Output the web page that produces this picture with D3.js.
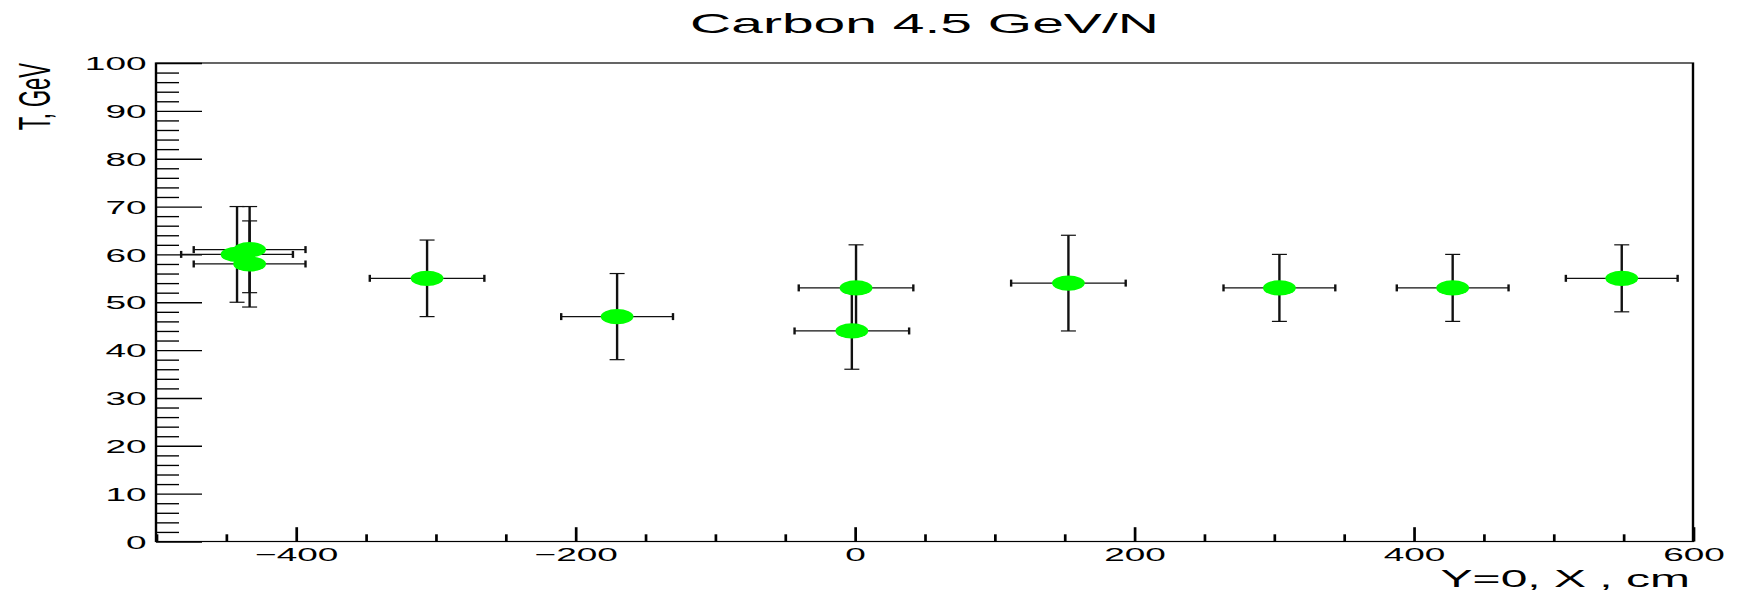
<!DOCTYPE html>
<html>
<head>
<meta charset="utf-8">
<script src="https://cdn.jsdelivr.net/npm/d3@7"></script>
<style>
body { margin: 0; background: #fff; }
svg { display: block; }
text { font-family: "Liberation Sans", Arial, sans-serif; fill: #000; }
</style>
</head>
<body>
<div id="chart"></div>
<script>
// data
const xPos  = [-442, -433, -433, -306, -170, 1, -2, 153, 304, 428, 549];
const tVal  = [60, 61, 58, 55, 47, 53, 44, 54, 53, 53, 55];
const xErr  = [40, 40, 40, 41, 40, 41, 41, 41, 40, 40, 40];
const tErr  = [10, 9, 9, 8, 9, 9, 8, 10, 7, 7, 7];

const xMajor = [-400, -200, 0, 200, 400, 600];
const xMinor = d3.range(-500, 601, 50).filter(v => !xMajor.includes(v));
const yMajor = d3.range(0, 101, 10);
const yMinor = d3.range(0, 101, 2).filter(v => v % 10 != 0);

const titleText = "Carbon 4.5 GeV/N";
const xTitle = "Y=0, X , cm";
const yTitle = "T, GeV";

// the original is stretched 2x horizontally, so draw in a half-width
// coordinate system and let the viewBox stretch it
const W = 869.5, H = 595;
const margin = {top: 63, right: 23, bottom: 53.5, left: 78};

var svg = d3.select("#chart")
    .append("svg")
    .attr("width", 1739)
    .attr("height", 595)
    .attr("viewBox", `0 0 ${W} ${H}`)
    .attr("preserveAspectRatio", "none");

var x = d3.scaleLinear()
    .domain([-500, 600])
    .range([margin.left, W - margin.right]);
var y = d3.scaleLinear()
    .domain([0, 100])
    .range([H - margin.bottom, margin.top]);

// minor ticks
svg.append("g")
    .attr("transform", "translate(0," + y(0) + ")")
    .call(d3.axisBottom(x).tickValues(xMinor).tickSizeInner(-7.2).tickSizeOuter(0).tickFormat(""))
    .call(g => g.select(".domain").remove());
svg.append("g")
    .attr("transform", "translate(" + x(-500) + ",0)")
    .call(d3.axisLeft(y).tickValues(yMinor).tickSizeInner(-11.5).tickSizeOuter(0).tickFormat(""))
    .call(g => g.select(".domain").remove());

// major ticks + labels
var xAxis = svg.append("g")
    .attr("transform", "translate(0," + y(0) + ")")
    .call(d3.axisBottom(x).tickValues(xMajor).tickSizeInner(-14.3).tickSizeOuter(0).tickPadding(6.5))
    .call(g => g.select(".domain").remove());
xAxis.attr("font-size", 18.5).attr("font-family", "Liberation Sans, Arial, sans-serif");
xAxis.selectAll("text").attr("fill", "#000");

var yAxis = svg.append("g")
    .attr("transform", "translate(" + x(-500) + ",0)")
    .call(d3.axisLeft(y).tickValues(yMajor).tickSizeInner(-23).tickSizeOuter(0).tickPadding(4.7))
    .call(g => g.select(".domain").remove());
yAxis.attr("font-size", 18.5).attr("font-family", "Liberation Sans, Arial, sans-serif");
yAxis.selectAll("text").attr("dy", "0.36em").attr("fill", "#000");

svg.selectAll(".tick line").attr("stroke", "#000").attr("stroke-width", 1.35);

// frame
svg.append("rect")
    .attr("x", x(-500))
    .attr("y", y(100))
    .attr("width", x(600) - x(-500))
    .attr("height", y(0) - y(100))
    .attr("fill", "none")
    .attr("stroke", "#000")
    .attr("stroke-width", 1.2);

// error bars
const pts = xPos.map((v, i) => ({x: v, t: tVal[i], ex: xErr[i], et: tErr[i]}));
var bars = svg.append("g").attr("stroke", "#111").attr("stroke-width", 1.2);
pts.forEach(p => {
    bars.append("line")
        .attr("x1", x(p.x - p.ex)).attr("x2", x(p.x + p.ex))
        .attr("y1", y(p.t)).attr("y2", y(p.t));
    bars.append("line")
        .attr("x1", x(p.x)).attr("x2", x(p.x))
        .attr("y1", y(p.t - p.et)).attr("y2", y(p.t + p.et));
    [p.x - p.ex, p.x + p.ex].forEach(e => {
        bars.append("line")
            .attr("x1", x(e)).attr("x2", x(e))
            .attr("y1", y(p.t) - 3.5).attr("y2", y(p.t) + 3.5);
    });
    [p.t - p.et, p.t + p.et].forEach(e => {
        bars.append("line")
            .attr("x1", x(p.x) - 3.75).attr("x2", x(p.x) + 3.75)
            .attr("y1", y(e)).attr("y2", y(e));
    });
});

// markers
svg.selectAll(".pt")
    .data(pts)
    .enter()
    .append("ellipse")
    .attr("class", "pt")
    .attr("cx", d => x(d.x))
    .attr("cy", d => y(d.t))
    .attr("rx", 8.2)
    .attr("ry", 7.6)
    .attr("fill", "#00ff00");

// titles
svg.append("text")
    .text(titleText)
    .attr("x", (x(-500) + x(600)) / 2)
    .attr("y", 33)
    .attr("text-anchor", "middle")
    .attr("font-size", 28.5);
svg.append("text")
    .text(xTitle)
    .attr("x", x(600) - 1.5)
    .attr("y", 587)
    .attr("text-anchor", "end")
    .attr("font-size", 24);
svg.append("text")
    .text(yTitle)
    .attr("transform", "translate(25," + y(100) + ") rotate(-90)")
    .attr("text-anchor", "end")
    .attr("font-size", 22);
</script>
</body>
</html>
